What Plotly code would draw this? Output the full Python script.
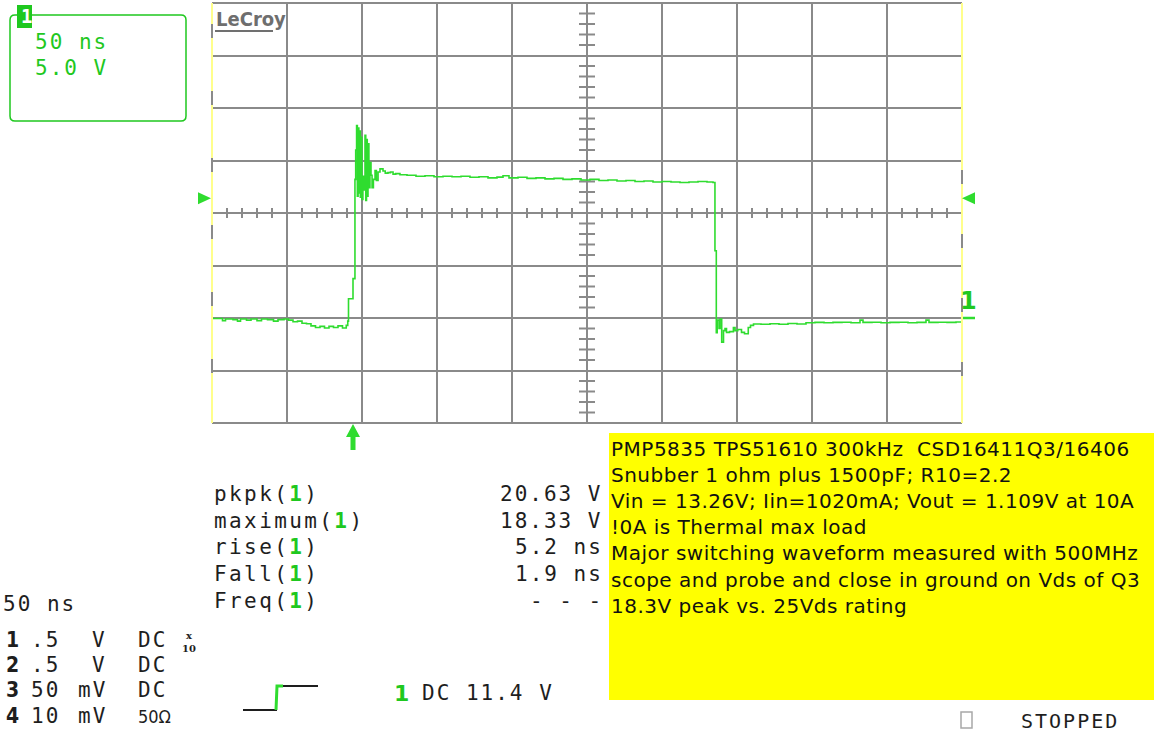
import plotly.graph_objects as go

W, H = 1154, 734

# ---------------- waveform (channel 1, Vds of Q3) ----------------
time_ns = [
    0, 4, 7, 9, 14, 17, 19, 23, 26, 30, 33, 37, 41, 44, 48, 51, 54, 57, 60, 63,
    66, 69, 72, 75, 78, 81, 84, 87, 89.5, 90.5,
    91.0, 94.0, 95.3, 95.8, 96.4, 96.9, 97.4, 97.9, 98.4, 98.9, 99.4, 99.9,
    100.6, 101.4, 102.0, 102.5, 103.0, 103.5, 104.0, 104.6, 105.3, 106.0,
    106.7, 107.6, 108.7, 109.6, 110.7, 112.0, 114.0, 115.5, 117.3, 119.0,
    120.7, 122.5, 125.3,
    130, 136, 142, 148, 154, 160, 166, 172, 178, 184, 190, 194, 198, 204, 210,
    216, 222, 228, 234, 240, 246, 252, 258, 264, 270, 276, 282, 288, 294, 300,
    306, 312, 318, 324, 330, 334.0,
    335.3, 336.2, 336.8, 338.0, 338.7, 339.8, 341.0, 342.0, 343.0, 345.0,
    347.6, 348.7, 350.5, 353.0, 355.0, 357.5, 359.0, 361.0,
    366, 372, 378, 384, 390, 396, 402, 408, 414, 420, 426, 432, 434, 440, 446,
    452, 458, 464, 470, 476, 478, 484, 490, 496, 500,
]
volts = [
    -0.05, -0.05, -0.25, -0.1, -0.15, -0.3, -0.1, -0.2, -0.1, -0.25, -0.1, -0.15,
    -0.3, -0.15, -0.1, -0.2, -0.35, -0.3, -0.5, -0.55,
    -0.75, -0.9, -0.8, -0.95, -0.8, -0.9, -0.75, -0.95, -0.7, -0.3,
    1.84, 3.75, 13.2, 16.0, 18.33, 11.6, 18.1, 11.9, 17.8, 11.5, 17.2, 11.3,
    13.5, 12.2, 17.4, 11.2, 17.0, 11.6, 16.6, 12.4, 14.8, 13.6,
    12.4, 13.2, 14.05, 13.1, 13.9, 14.2, 14.0, 13.8, 13.85, 13.9,
    13.7, 13.75, 13.65,
    13.6, 13.5, 13.55, 13.45, 13.5, 13.45, 13.5, 13.4, 13.45, 13.35, 13.42, 13.55,
    13.35, 13.4, 13.3, 13.35, 13.25, 13.3, 13.2, 13.25, 13.15, 13.2, 13.1, 13.15,
    13.05, 13.1, 13.0, 13.05, 12.95, 13.0, 12.95, 12.9, 12.95, 13.0, 12.95, 12.9,
    6.4, -1.4, -0.2, -1.0, -0.1, -2.3, -1.2, -1.0, -1.37, -1.3,
    -0.9, -1.2, -1.1, -1.37, -1.5, -0.9, -0.7, -0.57,
    -0.6, -0.55, -0.6, -0.52, -0.57, -0.45, -0.42, -0.45, -0.42, -0.4, -0.45,
    -0.2, -0.42, -0.4, -0.45, -0.42, -0.4, -0.45, -0.42, -0.2, -0.42, -0.4,
    -0.42, -0.38, -0.42,
]

# ---------------- scope settings ----------------
time_per_div_ns = 50
volts_per_div = 5
n_xdiv = 10
n_ydiv = 8
ground_divs_above_bottom = 2
trigger_level_v = 11.4
trigger_time_ns = 94

timebase_label = "50 ns"
vscale_label = "5.0 V"

measure_labels = ["pkpk", "maximum", "rise", "Fall", "Freq"]
measure_values = ["20.63 V", "18.33 V", "5.2 ns", "1.9 ns", "- - -"]

channel_ids = ["1", "2", "3", "4"]
channel_scale = [".5", ".5", "50", "10"]
channel_units = ["V", "V", "mV", "mV"]
channel_coupling = ["DC", "DC", "DC", "50Ω"]

trigger_text = "DC 11.4 V"

note_lines = [
    "PMP5835 TPS51610 300kHz  CSD16411Q3/16406",
    "Snubber 1 ohm plus 1500pF; R10=2.2",
    "Vin = 13.26V; Iin=1020mA; Vout = 1.109V at 10A",
    "!0A is Thermal max load",
    "Major switching waveform measured with 500MHz",
    "scope and probe and close in ground on Vds of Q3",
    "18.3V peak vs. 25Vds rating",
]

# ---------------- styling ----------------
GREEN = "#2fdc2f"
TXTGREEN = "#1fc81f"
GRID = "#8a8a8a"
YEL = "#ffff8c"
INK = "#1e1e1e"
MONO = "DejaVu Sans Mono"
SANS = "DejaVu Sans"
COND = "DejaVu Sans Condensed"

X0, X1, Y0, Y1 = 212, 962, 3, 423   # plot area in pixels


def px(x):
    return x / W


def py(y):
    return 1 - y / H


t_span = time_per_div_ns * n_xdiv
v_lo = -ground_divs_above_bottom * volts_per_div
v_hi = v_lo + n_ydiv * volts_per_div
ns_per_px = t_span / (X1 - X0)
v_per_px = (v_hi - v_lo) / (Y1 - Y0)
t_mid = t_span / 2
v_mid = (v_lo + v_hi) / 2

fig = go.Figure()
fig.add_trace(go.Scatter(
    x=time_ns, y=volts, mode="lines", line=dict(color=GREEN, width=1.6, shape="hv"),
    hoverinfo="skip", showlegend=False, cliponaxis=True,
))

shapes = []
# center-line minor ticks
for k in range(n_xdiv * 5 + 1):
    t = k * time_per_div_ns / 5
    if k % 5 == 0:
        continue
    shapes.append(dict(type="line", xref="x", yref="y", x0=t, x1=t,
                       y0=v_mid - 5 * v_per_px, y1=v_mid + 5 * v_per_px,
                       line=dict(color=GRID, width=2), layer="below"))
for k in range(n_ydiv * 5 + 1):
    v = v_lo + k * volts_per_div / 5
    if k % 5 == 0:
        continue
    shapes.append(dict(type="line", xref="x", yref="y", y0=v, y1=v,
                       x0=t_mid - 8 * ns_per_px, x1=t_mid + 8 * ns_per_px,
                       line=dict(color=GRID, width=2), layer="below"))
# top/bottom border
for yy in (Y0, Y1):
    shapes.append(dict(type="line", xref="paper", yref="paper", x0=px(X0), x1=px(X1),
                       y0=py(yy), y1=py(yy), line=dict(color=GRID, width=2)))
# left/right yellow borders with grey dashes
for xx, ystart, dash in ((X0, 24, "14px,53px"), (X1, 170, "14px,50px")):
    shapes.append(dict(type="line", xref="paper", yref="paper", x0=px(xx), x1=px(xx),
                       y0=py(Y0), y1=py(Y1), line=dict(color=YEL, width=2)))
    shapes.append(dict(type="line", xref="paper", yref="paper", x0=px(xx), x1=px(xx),
                       y0=py(ystart), y1=py(Y1), line=dict(color=GRID, width=2, dash=dash)))

# trigger level arrows
hh = 6 * v_per_px
shapes.append(dict(type="path", xref="paper", yref="y",
                   path=f"M {px(198)} {trigger_level_v + hh} L {px(211)} {trigger_level_v} L {px(198)} {trigger_level_v - hh} Z",
                   fillcolor=GREEN, line=dict(width=0)))
shapes.append(dict(type="path", xref="paper", yref="y",
                   path=f"M {px(975)} {trigger_level_v + hh} L {px(962)} {trigger_level_v} L {px(975)} {trigger_level_v - hh} Z",
                   fillcolor=GREEN, line=dict(width=0)))
# trigger time arrow
w7 = 7 * ns_per_px
w25 = 2.5 * ns_per_px
shapes.append(dict(type="path", xref="x", yref="paper",
                   path=(f"M {trigger_time_ns - w7} {py(437)} L {trigger_time_ns} {py(424)} "
                         f"L {trigger_time_ns + w7} {py(437)} L {trigger_time_ns + w25} {py(437)} "
                         f"L {trigger_time_ns + w25} {py(450)} L {trigger_time_ns - w25} {py(450)} "
                         f"L {trigger_time_ns - w25} {py(437)} Z"),
                   fillcolor=GREEN, line=dict(width=0)))
# ground marker dash
shapes.append(dict(type="line", xref="paper", yref="y", x0=px(963), x1=px(975), y0=0, y1=0,
                   line=dict(color=GREEN, width=2.5)))

# info box (rounded)
r = 5
bx0, by0, bx1, by1 = 10, 15, 186, 121
path = (f"M {px(bx0 + r)} {py(by0)} L {px(bx1 - r)} {py(by0)} Q {px(bx1)} {py(by0)} {px(bx1)} {py(by0 + r)} "
        f"L {px(bx1)} {py(by1 - r)} Q {px(bx1)} {py(by1)} {px(bx1 - r)} {py(by1)} "
        f"L {px(bx0 + r)} {py(by1)} Q {px(bx0)} {py(by1)} {px(bx0)} {py(by1 - r)} "
        f"L {px(bx0)} {py(by0 + r)} Q {px(bx0)} {py(by0)} {px(bx0 + r)} {py(by0)} Z")
shapes.append(dict(type="path", xref="paper", yref="paper", path=path,
                   line=dict(color=TXTGREEN, width=1.5)))
shapes.append(dict(type="rect", xref="paper", yref="paper", x0=px(17), x1=px(32), y0=py(5), y1=py(28),
                   fillcolor=TXTGREEN, line=dict(width=0)))
# LeCroy underline
shapes.append(dict(type="line", xref="paper", yref="paper", x0=px(215), x1=px(273), y0=py(31), y1=py(31),
                   line=dict(color="#707070", width=2)))
# yellow note box
shapes.append(dict(type="rect", xref="paper", yref="paper", x0=px(609), x1=px(1156), y0=py(433), y1=py(700),
                   fillcolor="#ffff00", line=dict(width=0), layer="below"))
# stopped checkbox
shapes.append(dict(type="rect", xref="paper", yref="paper", x0=px(961), x1=px(972), y0=py(712), y1=py(728),
                   line=dict(color="#a8a8a8", width=1.5)))
# trigger step symbol
shapes.append(dict(type="line", xref="paper", yref="paper", x0=px(243), x1=px(277), y0=py(710), y1=py(710),
                   line=dict(color=INK, width=2)))
shapes.append(dict(type="path", xref="paper", yref="paper",
                   path=f"M {px(276)} {py(710)} L {px(277)} {py(686)} L {px(283)} {py(686)}",
                   line=dict(color=GREEN, width=3)))
shapes.append(dict(type="line", xref="paper", yref="paper", x0=px(283), x1=px(318), y0=py(686), y1=py(686),
                   line=dict(color=INK, width=2)))

ann = []


def text(x, y, s, size=20, color=INK, family=MONO, anchor="left", ls=0, **kw):
    if ls:
        s = f"<span style='letter-spacing:{ls}px'>{s}</span>"
    ann.append(dict(x=px(x), y=py(y), xref="paper", yref="paper", text=s, showarrow=False,
                    xanchor=anchor, yanchor="middle", font=dict(family=family, size=size, color=color), **kw))


LS = 2

text(26, 16, "<b>1</b>", size=19, color="white", anchor="center")
text(33, 42, timebase_label, color=TXTGREEN, size=21, ls=LS)
text(33, 68, vscale_label, color=TXTGREEN, size=21, ls=LS)
text(214, 19, "<b>LeCroy</b>", size=20, color="#6e6e6e", family=COND)

ann.append(dict(x=px(968), y=0, xref="paper", yref="y", yshift=17, text="<b>1</b>", showarrow=False,
                xanchor="center", yanchor="middle", font=dict(family=SANS, size=24, color=TXTGREEN)))

row_y = [494, 521, 547, 574, 601]
for lab, val, yy in zip(measure_labels, measure_values, row_y):
    text(212, yy, f"{lab}(<span style='color:{TXTGREEN}'><b>1</b></span>)", size=21, ls=2.4)
    text(605, yy, val, size=21, anchor="right", ls=LS)

text(1, 604, timebase_label, size=21, ls=LS)

ch_y = [640, 665, 690, 716]
for cid, sc, un, cp, yy in zip(channel_ids, channel_scale, channel_units, channel_coupling, ch_y):
    text(4, yy, f"<b>{cid}</b>", size=21, family=COND)
    text(62, yy, sc, size=21, anchor="right", ls=LS)
    text(109, yy, un, size=21, anchor="right", ls=LS)
    if cp == "50Ω":
        text(136, yy, cp, size=18, family=COND)
    else:
        text(136, yy, cp, size=21, ls=LS)
text(189, 642, "<b>x<br>10</b>", size=10, anchor="center", family="DejaVu Serif")

text(392, 693, "<b>1</b>", size=22, color=TXTGREEN, family=SANS)
text(420, 693, trigger_text, size=21, ls=LS)

for i, line in enumerate(note_lines):
    text(609, 449 + 26.1 * i, line, size=20, color="#111111", family=SANS, ls=0.5)

text(1019, 721, "STOPPED", size=20, ls=LS)

fig.update_layout(
    width=W, height=H, margin=dict(l=0, r=0, t=0, b=0),
    paper_bgcolor="white", plot_bgcolor="white",
    xaxis=dict(domain=[px(X0), px(X1)], range=[0, t_span], dtick=time_per_div_ns, tick0=0,
               showgrid=True, gridcolor=GRID, gridwidth=2, zeroline=False,
               showticklabels=False, ticks="", showline=False, fixedrange=True),
    yaxis=dict(domain=[py(Y1), py(Y0)], range=[v_lo, v_hi], dtick=volts_per_div, tick0=0,
               showgrid=True, gridcolor=GRID, gridwidth=2, zeroline=False,
               showticklabels=False, ticks="", showline=False, fixedrange=True),
    shapes=shapes, annotations=ann, showlegend=False,
)

fig.write_html("out.html", config={"displayModeBar": False})
